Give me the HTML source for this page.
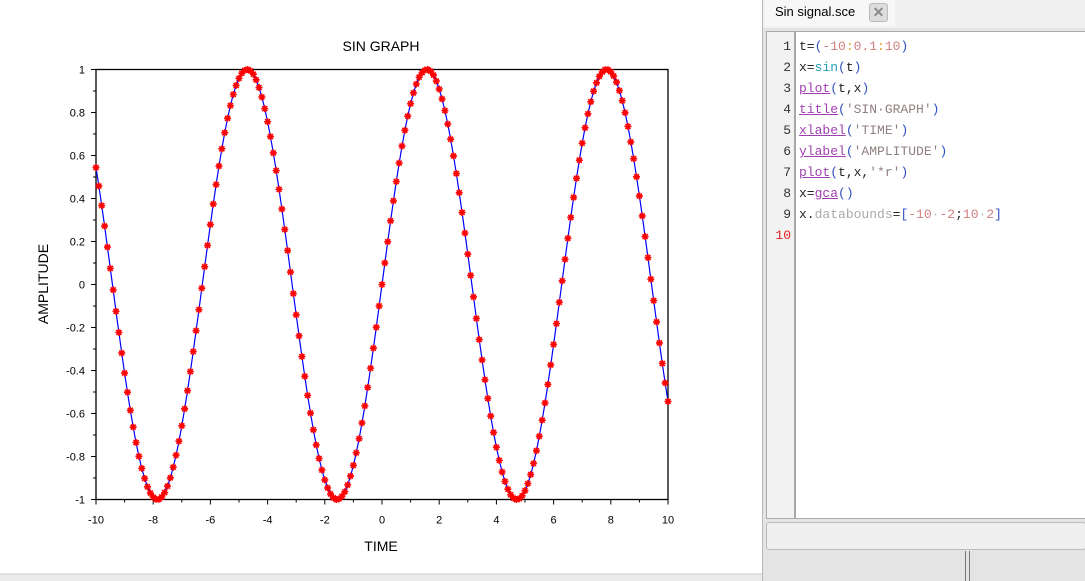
<!DOCTYPE html>
<html><head><meta charset="utf-8"><style>
body{margin:0;width:1085px;height:581px;overflow:hidden;background:#fff;font-family:"Liberation Sans",sans-serif;position:relative}
.code{font-family:"Liberation Mono",monospace;font-size:13px}
</style></head><body>
<svg width="762" height="581" style="position:absolute;left:0;top:0">
<rect x="0" y="574" width="762" height="7" fill="#ececec"/>
<line x1="0" y1="574" x2="762" y2="574" stroke="#c8c8c8"/>
<g id="plot"></g>
</svg>
<div style="position:absolute;left:762px;top:0;width:323px;height:581px;background:#e4e4e4;border-left:1px solid #b8b8b8">
<div style="position:absolute;left:0;top:0;width:323px;height:28px;background:#f0f0f0"></div>
<div style="position:absolute;left:2px;top:0;width:130px;height:27px;background:#f7f7f7;font-size:13px;line-height:24px;padding-left:10px;box-sizing:border-box">Sin signal.sce<span style="position:absolute;left:104px;top:3px;width:17px;height:17px;border:1px solid #bbb;border-radius:3px;background:#ddd;color:#888;font-size:14px;line-height:17px;text-align:center;font-weight:bold">✕</span></div>
<div style="position:absolute;left:3px;top:31px;width:320px;height:488px;background:#fff;border:1px solid #aaa;box-sizing:border-box">
<div style="position:absolute;left:0;top:0;width:27px;height:100%;background:#f2f2f2;border-right:2px solid #a8a8a8"></div>
<div class="code" id="gut" style="position:absolute;left:0;top:4px;width:24px;text-align:right;line-height:21px;color:#333"></div>
<div class="code" id="src" style="position:absolute;left:32px;top:4px;line-height:21px;color:#222;white-space:pre"></div>
</div>
<div style="position:absolute;left:3px;top:522px;width:320px;height:28px;background:#efefef;border:1px solid #bbb;border-radius:3px;box-sizing:border-box"></div>
<div style="position:absolute;left:202px;top:551px;width:3px;height:30px;border-left:1px solid #777;border-right:1px solid #777"></div>
</div>
<script>
var tStart=-10,tStep=0.1;
var amp=[0.544,0.458,0.367,0.272,0.174,0.075,-0.025,-0.125,-0.223,-0.319,
-0.412,-0.501,-0.585,-0.663,-0.735,-0.799,-0.855,-0.902,-0.941,-0.970,
-0.989,-0.999,-0.999,-0.988,-0.968,-0.938,-0.899,-0.850,-0.794,-0.729,
-0.657,-0.578,-0.494,-0.405,-0.312,-0.215,-0.117,-0.017,0.083,0.182,
0.279,0.374,0.465,0.551,0.631,0.706,0.773,0.832,0.884,0.926,
0.959,0.983,0.996,1.000,0.994,0.978,0.952,0.916,0.872,0.818,
0.757,0.688,0.612,0.530,0.443,0.351,0.256,0.158,0.058,-0.042,
-0.141,-0.239,-0.335,-0.427,-0.516,-0.598,-0.676,-0.746,-0.809,-0.863,
-0.909,-0.946,-0.974,-0.992,-1.000,-0.997,-0.985,-0.964,-0.932,-0.891,
-0.841,-0.783,-0.717,-0.644,-0.565,-0.479,-0.389,-0.296,-0.199,-0.100,
0,
0.100,0.199,0.296,0.389,0.479,0.565,0.644,0.717,0.783,0.841,
0.891,0.932,0.964,0.985,0.997,1.000,0.992,0.974,0.946,0.909,
0.863,0.809,0.746,0.676,0.598,0.516,0.427,0.335,0.239,0.141,
0.042,-0.058,-0.158,-0.256,-0.351,-0.443,-0.530,-0.612,-0.688,-0.757,
-0.818,-0.872,-0.916,-0.952,-0.978,-0.994,-1.000,-0.996,-0.983,-0.959,
-0.926,-0.884,-0.832,-0.773,-0.706,-0.631,-0.551,-0.465,-0.374,-0.279,
-0.182,-0.083,0.017,0.117,0.215,0.312,0.405,0.494,0.578,0.657,
0.729,0.794,0.850,0.899,0.938,0.968,0.988,0.999,0.999,0.989,
0.970,0.941,0.902,0.855,0.799,0.735,0.663,0.585,0.501,0.412,
0.319,0.223,0.125,0.025,-0.075,-0.174,-0.272,-0.367,-0.458,-0.544];
var xTicks=[-10,-8,-6,-4,-2,0,2,4,6,8,10];
var yTicks=[-1,-0.8,-0.6,-0.4,-0.2,0,0.2,0.4,0.6,0.8,1];
var xLabels=["-10","-8","-6","-4","-2","0","2","4","6","8","10"];
var yLabels=["-1","-0.8","-0.6","-0.4","-0.2","0","0.2","0.4","0.6","0.8","1"];
var L=96,R=668,T=69.5,B=499.5;
function sx(v){return L+(v+10)/20*(R-L);}
function sy(v){return B-(v+1)/2*(B-T);}
var NS="http://www.w3.org/2000/svg",g=document.getElementById('plot');
function mk(tag,a,p){var e=document.createElementNS(NS,tag);for(var k in a)e.setAttribute(k,a[k]);(p||g).appendChild(e);return e;}
var fr=mk('rect',{x:L,y:T,width:R-L,height:B-T,fill:'none',stroke:'#000','stroke-width':1.3});


for(var i=0;i<xTicks.length;i++){
 var x=sx(xTicks[i]);
 mk('line',{x1:x,y1:B,x2:x,y2:B+5,stroke:'#000'});
 if(i<xTicks.length-1){var xm=sx((xTicks[i]+xTicks[i+1])/2);mk('line',{x1:xm,y1:B,x2:xm,y2:B+3,stroke:'#000'});}
 var tx=mk('text',{x:x,y:B+24,'text-anchor':'middle','font-size':11,fill:'#000'});tx.textContent=xLabels[i];
 
 
}
for(var j=0;j<yTicks.length;j++){
 var y=sy(yTicks[j]);
 mk('line',{x1:L-5,y1:y,x2:L,y2:y,stroke:'#000'});
 if(j<yTicks.length-1){var ym=sy((yTicks[j]+yTicks[j+1])/2);mk('line',{x1:L-3,y1:ym,x2:L,y2:ym,stroke:'#000'});}
 var ty=mk('text',{x:L-11,y:y+4,'text-anchor':'end','font-size':11,fill:'#000'});ty.textContent=yLabels[j];
 
 
}
var pts=amp.map(function(v,k){return sx(tStart+k*tStep).toFixed(2)+','+sy(v).toFixed(2);}).join(' ');
var ln=mk('polyline',{points:pts,fill:'none',stroke:'#0000ff','stroke-width':1.2});


var mg=mk('g',{stroke:'#ff0000','stroke-width':1.6});


amp.forEach(function(v,k){var x=sx(tStart+k*tStep),y=sy(v),r=3.5,d=2.5;
 mk('path',{d:'M'+(x-r)+' '+y+'h'+2*r+'M'+x+' '+(y-r)+'v'+2*r+'M'+(x-d)+' '+(y-d)+'l'+2*d+' '+2*d+'M'+(x-d)+' '+(y+d)+'l'+2*d+' '+(-2*d)},mg);});
var t1=mk('text',{x:381,y:51,'text-anchor':'middle','font-size':14});t1.textContent='SIN GRAPH';


var t2=mk('text',{x:381,y:551,'text-anchor':'middle','font-size':14});t2.textContent='TIME';


var t3=mk('text',{x:48,y:284,'text-anchor':'middle','font-size':14,transform:'rotate(-90 48 284)'});t3.textContent='AMPLITUDE';


var P='#a040b0',N='#d08080',S='#908080',B2='#3050c0';
function u(s){return '<span style="color:'+P+';text-decoration:underline">'+s+'</span>';}
function c(col,s){return '<span style="color:'+col+'">'+s+'</span>';}
var lines=[
't='+c(B2,'(')+c(N,'-10')+c('#e0a020',':')+c(N,'0.1')+c('#e0a020',':')+c(N,'10')+c(B2,')'),
'x='+c('#20a0b0','sin')+c(B2,'(')+'t'+c(B2,')'),
u('plot')+c(B2,'(')+'t,x'+c(B2,')'),
u('title')+c(B2,'(')+c(S,"'SIN·GRAPH'")+c(B2,')'),
u('xlabel')+c(B2,'(')+c(S,"'TIME'")+c(B2,')'),
u('ylabel')+c(B2,'(')+c(S,"'AMPLITUDE'")+c(B2,')'),
u('plot')+c(B2,'(')+'t,x,'+c(S,"'*r'")+c(B2,')'),
'x='+u('gca')+c(B2,'()'),
'x.'+c('#aaa','databounds')+'='+c(B2,'[')+c(N,'-10')+c('#bbb','·')+c(N,'-2')+';'+c(N,'10')+c('#bbb','·')+c(N,'2')+c(B2,']')];
document.getElementById('src').innerHTML=lines.join('\n');
var gh='';for(var n=1;n<=10;n++)gh+=(n==10?'<span style="color:#e02020">10</span>':n)+'<br>';
document.getElementById('gut').innerHTML=gh;
</script>
</body></html>
